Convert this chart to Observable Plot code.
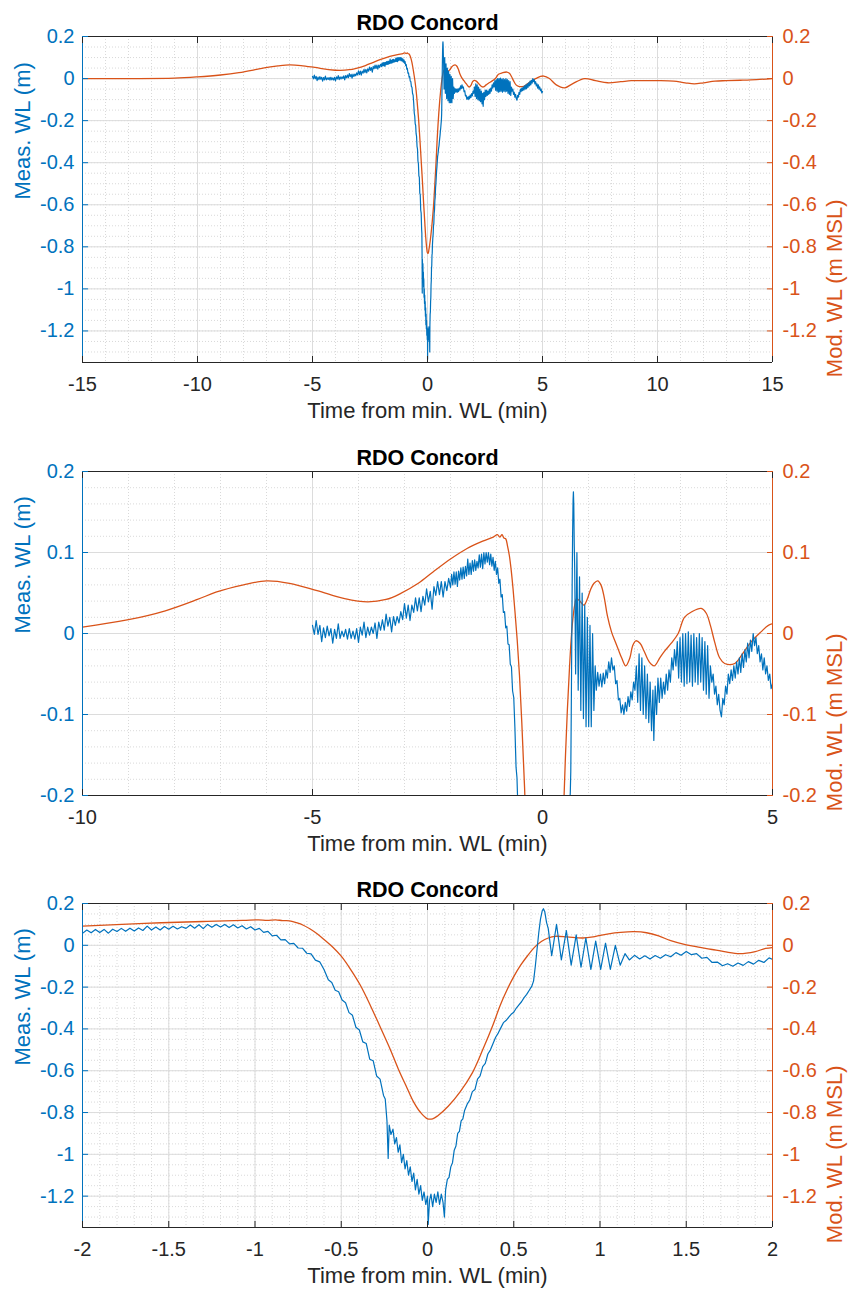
<!DOCTYPE html>
<html><head><meta charset="utf-8">
<script src="https://cdn.jsdelivr.net/npm/d3@7"></script>
<script src="https://cdn.jsdelivr.net/npm/@observablehq/plot@0.6"></script>
<style>body{margin:0;background:#fff;} #chart svg{display:block;}</style>
</head><body><div id="chart"></div><script>
// ---- Data ----
const titleText = "RDO Concord";
const xLabel = "Time from min. WL (min)";
const yLeftLabel = "Meas. WL (m)";
const yRightLabel = "Mod. WL (m MSL)";

// Modelled water level (minutes from min. WL, m MSL)
const modTime = [-15,-13,-11,-10,-9,-8.2,-7.5,-7.1,-6.5,-6.0,
-5.5,-4.9,-4.3,-3.8,-3.4,-3.1,-2.7,-2.38,-2.0,-1.64,
-1.3,-1.07,-0.98,-0.93,-0.88,-0.84,-0.80,-0.76,-0.72,-0.68,
-0.64,-0.60,-0.55,-0.50,-0.45,-0.39,-0.33,-0.28,-0.22,-0.17,
-0.12,-0.08,-0.04,0.0,0.03,0.06,0.12,0.19,0.26,0.32,
0.38,0.42,0.46,0.50,0.54,0.58,0.62,0.66,0.70,0.74,
0.81,0.90,0.97,1.05,1.12,1.20,1.27,1.34,1.41,1.50,
1.58,1.65,1.72,1.81,1.90,1.96,2.03,2.12,2.21,2.32,
2.43,2.55,2.65,2.80,2.95,3.085,3.25,3.45,3.56,3.65,
3.74,3.85,3.96,4.18,4.35,4.54,4.75,4.91,5.05,5.3,
5.6,5.96,6.3,6.83,7.3,7.84,8.4,8.86,9.5,10.0,
10.7,11.2,11.6,12.0,12.5,13.0,13.6,14.3,15];
const modWL = [0.0,0.0,0.002,0.008,0.017,0.028,0.042,0.051,0.060,0.065,
0.062,0.053,0.043,0.039,0.042,0.049,0.062,0.076,0.092,0.105,
0.114,0.119,0.122,0.119,0.122,0.118,0.117,0.108,0.096,0.078,
0.055,0.028,-0.008,-0.052,-0.110,-0.190,-0.290,-0.380,-0.490,-0.590,
-0.680,-0.750,-0.800,-0.830,-0.830,-0.815,-0.770,-0.700,-0.610,-0.500,
-0.380,-0.290,-0.215,-0.150,-0.095,-0.050,-0.010,0.018,0.035,0.043,
0.040,0.035,0.042,0.055,0.062,0.065,0.060,0.045,0.022,0.002,
-0.010,-0.020,-0.030,-0.040,-0.030,-0.015,-0.009,-0.012,-0.022,-0.035,
-0.040,-0.030,-0.022,-0.012,0.000,0.020,0.027,0.031,0.025,0.010,
-0.010,-0.030,-0.037,-0.037,-0.025,-0.010,0.002,0.010,0.012,0.000,
-0.030,-0.044,-0.025,0.000,-0.010,-0.020,-0.015,-0.010,-0.010,-0.010,
-0.012,-0.020,-0.025,-0.020,-0.012,-0.010,-0.008,-0.005,0.0];

// Measured water level (minutes from min. WL, m)
const measTime = [
-5.00,-4.96,-4.92,-4.88,-4.84,-4.80,-4.76,-4.72,-4.68,-4.64,
-4.60,-4.56,-4.52,-4.48,-4.44,-4.40,-4.36,-4.32,-4.28,-4.24,
-4.20,-4.16,-4.12,-4.08,-4.04,-4.00,-3.96,-3.92,-3.88,-3.84,
-3.80,-3.76,-3.72,-3.68,-3.64,-3.60,-3.56,-3.52,-3.48,-3.44,
-3.40,-3.36,-3.32,-3.28,-3.24,-3.20,-3.16,-3.12,-3.08,-3.04,
-3.00,-2.96,-2.92,-2.88,-2.84,-2.80,-2.76,-2.72,-2.68,-2.64,
-2.60,-2.56,-2.52,-2.48,-2.44,-2.40,-2.36,-2.32,-2.28,-2.24,
-2.20,-2.16,-2.12,-2.08,-2.04,
-2.000,-1.975,-1.950,-1.925,-1.900,-1.875,-1.850,-1.825,-1.800,-1.775,
-1.750,-1.725,-1.700,-1.675,-1.650,-1.625,-1.600,-1.575,-1.550,-1.525,
-1.500,-1.475,-1.450,-1.425,-1.400,-1.375,-1.350,-1.325,-1.300,-1.275,
-1.250,-1.225,-1.200,-1.175,-1.150,-1.125,-1.100,-1.075,-1.050,-1.025,
-1.000,-0.975,-0.950,-0.925,-0.900,-0.875,-0.850,-0.825,-0.800,-0.775,
-0.750,-0.725,-0.700,-0.675,-0.650,-0.625,-0.600,
-0.575,-0.555,-0.535,-0.515,-0.495,-0.475,-0.455,-0.435,-0.415,-0.395,
-0.375,-0.355,-0.335,-0.315,-0.295,-0.275,-0.255,-0.245,-0.235,-0.228,
-0.222,-0.212,-0.200,-0.190,-0.180,-0.170,-0.160,-0.150,-0.140,-0.130,
-0.120,-0.110,-0.100,-0.090,-0.080,-0.070,-0.060,-0.050,-0.040,-0.030,
-0.020,-0.010,0.000,0.004,0.012,0.020,0.030,0.040,0.050,0.060,
0.070,0.080,0.090,0.098,0.105,0.115,0.125,0.135,0.145,0.155,
0.165,0.175,0.185,0.195,0.205,0.215,0.230,0.245,0.260,0.275,
0.290,0.305,0.320,0.335,0.350,0.365,0.380,0.395,0.410,0.425,
0.440,0.455,0.470,0.485,0.500,0.515,0.530,0.545,0.560,0.575,
0.590,0.605,0.615,0.625,0.635,0.645,0.655,0.665,0.672,0.680,
0.690,
0.700,0.720,0.748,0.776,0.805,0.833,0.862,0.890,0.918,0.947,
0.975,1.004,1.032,1.060,1.089,1.117,1.145,1.170,
1.20,1.23,1.26,1.29,1.32,1.35,1.38,1.41,1.44,1.47,
1.50,1.53,1.56,1.59,1.62,1.65,1.68,1.71,1.74,1.77,
1.80,1.83,1.86,1.89,1.92,1.95,1.98,2.01,2.04,2.07,
2.10,2.13,2.16,2.19,2.22,2.25,2.28,2.31,2.34,2.37,
2.40,2.42,2.45,2.48,2.51,2.54,2.57,2.60,2.63,2.66,
2.69,2.72,2.75,2.78,2.81,2.84,2.87,2.90,2.93,2.96,
2.99,3.02,3.05,3.08,3.11,3.14,3.17,3.20,3.23,3.26,
3.29,3.32,3.35,3.38,3.41,3.44,3.47,3.50,3.53,3.56,
3.59,3.62,3.65,3.68,3.71,3.74,3.77,3.80,3.83,3.86,
3.89,3.92,3.95,3.98,4.01,4.04,4.07,4.10,4.13,4.16,
4.19,4.22,4.25,4.28,4.31,4.34,4.37,4.40,4.43,4.46,
4.49,4.52,4.55,4.58,4.61,4.64,4.67,4.70,4.73,4.76,
4.79,4.82,4.85,4.88,4.91,4.94,4.97,5.00];
const measWL = [
0.010,-0.001,0.016,-0.001,0.010,-0.010,0.007,-0.005,0.009,-0.003,
0.006,-0.012,0.005,-0.006,0.012,-0.006,0.003,-0.004,0.005,-0.007,
0.006,-0.006,0.003,-0.007,0.006,-0.011,0.008,-0.002,0.014,-0.005,
0.008,-0.002,0.008,0.000,0.013,-0.006,0.014,0.004,0.017,0.004,
0.024,0.009,0.020,0.002,0.021,0.010,0.021,0.013,0.027,0.017,
0.037,0.019,0.035,0.016,0.035,0.026,0.044,0.028,0.044,0.027,
0.046,0.035,0.055,0.039,0.052,0.030,0.058,0.047,0.064,0.048,
0.064,0.045,0.064,0.053,0.068,
0.057,0.073,0.060,0.076,0.061,0.076,0.058,0.077,0.066,0.081,
0.067,0.082,0.068,0.083,0.071,0.092,0.073,0.087,0.073,0.090,
0.077,0.091,0.078,0.089,0.081,0.097,0.082,0.098,0.080,0.100,
0.086,0.100,0.088,0.100,0.085,0.098,0.083,0.094,0.078,0.089,
0.073,0.081,0.062,0.067,0.045,0.048,0.026,0.027,0.007,0.009,
-0.013,-0.014,-0.038,-0.041,-0.071,-0.079,-0.116,
-0.165,-0.178,-0.215,-0.222,-0.262,-0.275,-0.322,-0.335,-0.392,-0.405,
-0.462,-0.470,-0.545,-0.552,-0.625,-0.640,-0.718,-0.735,-0.840,-1.020,
-0.860,-0.905,-0.880,-0.950,-0.920,-0.990,-0.955,-1.040,-1.000,-1.070,
-1.030,-1.100,-1.060,-1.130,-1.090,-1.170,-1.120,-1.190,-1.150,-1.220,
-1.180,-1.240,-1.200,-1.335,-1.220,-1.190,-1.250,-1.190,-1.230,-1.180,
-1.240,-1.190,-1.230,-1.300,-1.170,-1.120,-1.110,-1.060,-1.040,-0.980,
-0.960,-0.900,-0.890,-0.840,-0.830,-0.790,-0.760,-0.740,-0.700,-0.690,
-0.640,-0.625,-0.580,-0.565,-0.520,-0.500,-0.470,-0.440,-0.420,-0.395,
-0.370,-0.360,-0.345,-0.330,-0.320,-0.300,-0.285,-0.270,-0.250,-0.235,
-0.215,-0.195,-0.170,-0.100,-0.020,0.060,0.125,0.165,0.175,0.160,
0.110,
0.080,-0.050,0.100,-0.070,0.070,-0.095,0.050,-0.105,0.035,-0.115,
0.020,-0.115,0.010,-0.115,0.000,-0.095,-0.040,-0.070,
-0.048,-0.065,-0.050,-0.066,-0.049,-0.062,-0.045,-0.055,-0.035,-0.048,
-0.030,-0.045,-0.040,-0.062,-0.058,-0.082,-0.080,-0.098,-0.088,-0.100,
-0.085,-0.096,-0.078,-0.090,-0.072,-0.082,-0.060,-0.070,-0.040,-0.085,
-0.025,-0.095,-0.030,-0.100,-0.040,-0.105,-0.050,-0.110,-0.060,-0.120,
-0.070,-0.132,-0.065,-0.100,-0.055,-0.085,-0.055,-0.080,-0.060,-0.075,
-0.050,-0.070,-0.045,-0.060,-0.030,-0.045,-0.020,-0.040,-0.010,-0.055,
-0.005,-0.060,0.000,-0.065,0.000,-0.062,0.002,-0.060,-0.002,-0.065,
0.000,-0.060,-0.005,-0.063,0.000,-0.060,-0.005,-0.070,-0.010,-0.075,
-0.015,-0.080,-0.040,-0.060,-0.050,-0.075,-0.065,-0.088,-0.075,-0.095,
-0.103,-0.080,-0.088,-0.065,-0.075,-0.050,-0.062,-0.045,-0.058,-0.040,
-0.055,-0.035,-0.050,-0.030,-0.048,-0.025,-0.042,-0.020,-0.035,-0.012,
-0.030,-0.008,-0.022,0.000,-0.015,-0.005,-0.025,-0.015,-0.035,-0.025,
-0.045,-0.030,-0.050,-0.040,-0.058,-0.050,-0.068,-0.062];

// Axis ticks per panel
const xTicks1 = [-15,-10,-5,0,5,10,15];
const xTicks2 = [-10,-5,0,5];
const xTicks3 = [-2,-1.5,-1,-0.5,0,0.5,1,1.5,2];
const yTicks1 = [-1.2,-1,-0.8,-0.6,-0.4,-0.2,0,0.2];
const yTicks2 = [-0.2,-0.1,0,0.1,0.2];

// ---- Build ----
const BLUE = "#0072BD", ORANGE = "#D95319", DARK = "#262626";
const n = Math.min(measTime.length, measWL.length);
const meas = measTime.slice(0, n).map((t, i) => ({t, v: measWL[i]}));
const mod = modTime.map((t, i) => ({t, v: modWL[i]}));
const fmt = d => String(d);
const steps = (a, b, s) => d3.range(Math.round(a / s), Math.round(b / s) + 1).map(k => +(k * s).toFixed(4));

const panels = [
  {xDomain: [-15, 15], yDomain: [-1.35, 0.2], xTicks: xTicks1, yTicks: yTicks1, xMinor: 1, yMinor: 0.05, height: 432, mt: 36, mb: 70},
  {xDomain: [-10, 5], yDomain: [-0.2, 0.2], xTicks: xTicks2, yTicks: yTicks2, xMinor: 1, yMinor: 0.02, height: 432, mt: 39, mb: 69},
  {xDomain: [-2, 2], yDomain: [-1.35, 0.2], xTicks: xTicks3, yTicks: yTicks1, xMinor: 0.1, yMinor: 0.05, height: 425, mt: 39, mb: 62}
];

const root = document.getElementById("chart");
for (const p of panels) {
  const [x0, x1] = p.xDomain, [y0, y1] = p.yDomain;
  const xMinorVals = steps(x0, x1, p.xMinor);
  const yMinorVals = steps(Math.ceil(y0 / p.yMinor) * p.yMinor, y1, p.yMinor);
  const svg = Plot.plot({
    width: 848, height: p.height,
    marginLeft: 82, marginRight: 76, marginTop: p.mt, marginBottom: p.mb,
    x: {domain: p.xDomain},
    y: {domain: p.yDomain},
    style: {fontFamily: "'Liberation Sans', Arial, Helvetica, sans-serif", fontSize: "20px", background: "#fff", overflow: "visible"},
    marks: [
      Plot.gridX(xMinorVals, {stroke: "#cfcfcf", strokeOpacity: 1, strokeWidth: 0.8, strokeDasharray: "1,2"}),
      Plot.gridY(yMinorVals, {stroke: "#cfcfcf", strokeOpacity: 1, strokeWidth: 0.8, strokeDasharray: "1,2"}),
      Plot.gridX(p.xTicks, {stroke: "#dcdcdc", strokeOpacity: 1, strokeWidth: 1}),
      Plot.gridY(p.yTicks, {stroke: "#dcdcdc", strokeOpacity: 1, strokeWidth: 1}),
      Plot.line(mod, {x: "t", y: "v", stroke: ORANGE, strokeWidth: 1.3, curve: "catmull-rom", clip: true}),
      Plot.line(meas, {x: "t", y: "v", stroke: BLUE, strokeWidth: 1.2, clip: true}),
      Plot.ruleY([y0, y1], {stroke: DARK, strokeWidth: 1}),
      Plot.ruleX([x0], {stroke: BLUE, strokeWidth: 1}),
      Plot.ruleX([x1], {stroke: ORANGE, strokeWidth: 1}),
      Plot.axisX(p.xTicks, {anchor: "bottom", tickSize: -6, tickPadding: 20, tickFormat: fmt, stroke: DARK, fill: DARK, fontSize: 20, label: null}),
      Plot.axisX(p.xTicks, {anchor: "top", tickSize: -6, tickFormat: () => "", stroke: DARK, label: null}),
      Plot.axisY(p.yTicks, {anchor: "left", tickSize: -6, tickPadding: 14, tickFormat: fmt, stroke: BLUE, fill: BLUE, fontSize: 20, label: null}),
      Plot.axisY(p.yTicks, {anchor: "right", tickSize: -6, tickPadding: 16, tickFormat: fmt, stroke: ORANGE, fill: ORANGE, fontSize: 20, label: null}),
      Plot.text([titleText], {text: d => d, frameAnchor: "top", dy: -7, lineAnchor: "bottom", fontWeight: "bold", fontSize: 21.5, fill: "#000"}),
      Plot.text([xLabel], {text: d => d, frameAnchor: "bottom", dy: 48, lineAnchor: "middle", fontSize: 22, fill: DARK}),
      Plot.text([yLeftLabel], {text: d => d, frameAnchor: "left", dx: -60, rotate: -90, lineAnchor: "middle", fontSize: 22, fill: BLUE}),
      Plot.text([yRightLabel], {text: d => d, frameAnchor: "right", dx: 62, rotate: -90, lineAnchor: "middle", fontSize: 22, fill: ORANGE})
    ]
  });
  root.appendChild(svg);
}
</script></body></html>
